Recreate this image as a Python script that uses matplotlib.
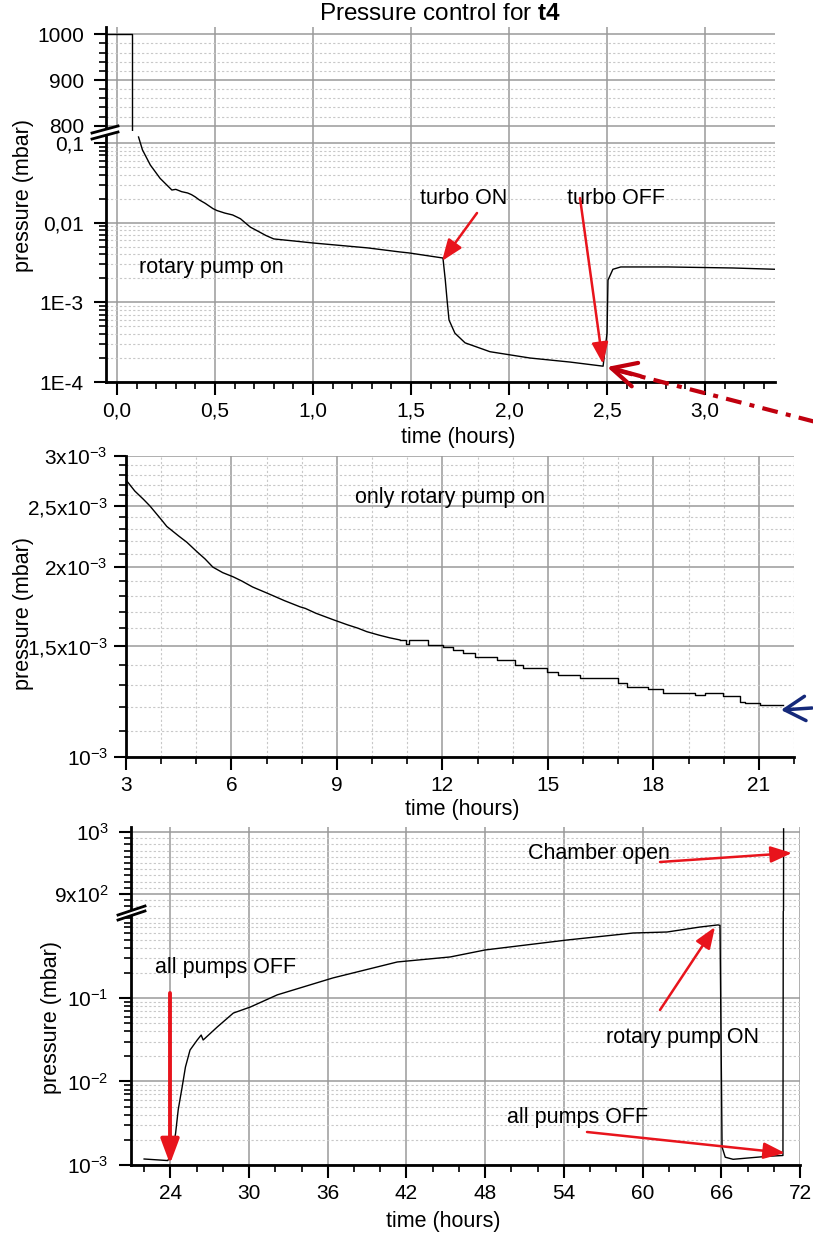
import numpy as np
import matplotlib
matplotlib.use("Agg")
import matplotlib.pyplot as plt
from matplotlib.ticker import MultipleLocator, FixedLocator, LogLocator, NullFormatter, FuncFormatter
from matplotlib.lines import Line2D
from matplotlib.patches import FancyArrowPatch, Polygon

plt.rcParams['font.family'] = ['Liberation Sans', 'DejaVu Sans']
plt.rcParams['mathtext.fontset'] = 'custom'
plt.rcParams['mathtext.rm'] = 'Liberation Sans'
plt.rcParams['mathtext.it'] = 'Liberation Sans:italic'
plt.rcParams['mathtext.bf'] = 'Liberation Sans:bold'

# ---- data: pump-down run t4 ----
# venting (upper, atmospheric part of panel 1)
vent_t = [-0.06, 0.077, 0.077]
vent_p = [1000, 1000, 780]

# rotary pump + turbo, first 3.4 hours
pump_t = [0.11, 0.13, 0.17, 0.22, 0.28, 0.30, 0.33, 0.36, 0.38, 0.40, 0.42, 0.45, 0.49,
          0.51, 0.55, 0.59, 0.63, 0.68, 0.72, 0.76, 0.80, 0.90, 1.00, 1.28, 1.44, 1.49,
          1.663, 1.675, 1.684, 1.694, 1.724, 1.776, 1.903, 2.107, 2.311, 2.48,
          2.50, 2.505, 2.53, 2.57, 2.81, 3.14, 3.36]
pump_p = [0.119, 0.082, 0.053, 0.036, 0.0257, 0.0262, 0.0245, 0.0236, 0.0225, 0.021, 0.0193,
          0.0175, 0.0150, 0.0142, 0.0132, 0.0125, 0.0112, 0.0088, 0.0078, 0.0069, 0.00625,
          0.0059, 0.00556, 0.00482, 0.0043, 0.00417, 0.0036, 0.0019, 0.00107, 0.0006, 0.00041,
          0.00031, 0.00024, 0.0002, 0.000178, 0.000158, 0.00041, 0.0019, 0.0026, 0.00278,
          0.00278, 0.0027, 0.0026]

# only rotary pump, 3 - 22 hours (smooth early decay, then gauge-resolution steps)
rot_early_t = [3.02, 3.25, 3.5, 3.68, 4.0, 4.16, 4.5, 4.73, 5.0, 5.25, 5.47, 5.75, 6.05, 6.3,
               6.6, 7.0, 7.2, 7.5, 7.95, 8.1, 8.4, 8.9, 9.3, 9.6, 9.85, 10.2, 10.5, 10.79]
rot_early_p = [2.74e-3, 2.64e-3, 2.56e-3, 2.50e-3, 2.38e-3, 2.32e-3, 2.24e-3, 2.19e-3,
               2.12e-3, 2.06e-3, 2.00e-3, 1.96e-3, 1.93e-3, 1.90e-3, 1.86e-3, 1.82e-3,
               1.80e-3, 1.77e-3, 1.73e-3, 1.72e-3, 1.69e-3, 1.65e-3, 1.62e-3, 1.60e-3,
               1.58e-3, 1.56e-3, 1.545e-3, 1.533e-3]
rot_late_t = [10.79, 10.95, 11.05, 11.59, 12.01, 12.30, 12.58, 12.92, 13.55, 14.06, 14.29,
              14.97, 15.28, 15.91, 16.99, 17.25, 17.84, 18.27, 19.18, 19.46, 19.97, 20.46,
              20.60, 21.03, 21.68]
rot_late_p = [1.533e-3, 1.51e-3, 1.533e-3, 1.505e-3, 1.495e-3, 1.479e-3, 1.463e-3, 1.441e-3,
              1.426e-3, 1.400e-3, 1.385e-3, 1.364e-3, 1.349e-3, 1.335e-3, 1.311e-3, 1.291e-3,
              1.282e-3, 1.264e-3, 1.254e-3, 1.264e-3, 1.249e-3, 1.223e-3, 1.218e-3, 1.209e-3,
              1.209e-3]

# pumps off / rotary on / chamber open, 22 - 71 hours
off_t = [22.0, 23.8, 24.15, 24.4, 24.6, 24.9, 25.15, 25.5, 26.05, 26.35, 26.5, 27.58, 28.8,
         30.1, 32.15, 36.4, 41.3, 45.33, 48.0, 54.25, 59.28, 61.87, 64.38, 65.75, 65.9,
         66.06, 66.3, 66.9, 67.7, 69.5, 70.7, 70.75]
off_p = [1.18e-3, 1.13e-3, 1.39e-3, 2.4e-3, 4.6e-3, 8.6e-3, 0.0149, 0.0238, 0.0314, 0.036,
         0.0314, 0.045, 0.066, 0.078, 0.109, 0.174, 0.27, 0.31, 0.376, 0.495, 0.60, 0.617,
         0.708, 0.75, 0.74, 1.64e-3, 1.24e-3, 1.17e-3, 1.2e-3, 1.27e-3, 1.3e-3, 1005]

W, H = 813, 1235
fig = plt.figure(figsize=(W / 100, H / 100), dpi=100)


def fr(x, y):
    return (x / W, 1 - y / H)


def rect(l, t, r, b):
    return [l / W, 1 - b / H, (r - l) / W, (b - t) / H]


def style(ax, ypad=6, xminor_grid=False):
    for s in ['top', 'right']:
        ax.spines[s].set_visible(False)
    for s in ['left', 'bottom']:
        ax.spines[s].set_linewidth(2)
    ax.tick_params(which='major', direction='out', length=9, width=1.5, labelsize=15)
    ax.tick_params(which='minor', direction='out', length=5, width=1.2)
    ax.tick_params(axis='y', which='major', pad=ypad)
    ax.tick_params(axis='x', which='major', pad=5)
    ax.grid(which='major', color='#9a9a9a', lw=1.1)
    ax.grid(which='minor', axis='y', color='#c8c8c8', lw=0.8, ls=(0, (2, 2)))
    if xminor_grid:
        ax.grid(which='minor', axis='x', color='#c8c8c8', lw=0.8, ls=(0, (2, 2)))
    ax.set_axisbelow(True)


def top_part(ax):
    ax.spines['bottom'].set_visible(False)
    ax.tick_params(axis='x', which='both', bottom=False, labelbottom=False)


def break_mark(x0, x1, y0a, y1a, y0b, y1b):
    poly = Polygon([fr(x0, y0a), fr(x1, y1a), fr(x1, y1b), fr(x0, y0b)],
                   closed=True, transform=fig.transFigure, fc='white', ec='none', zorder=20)
    fig.add_artist(poly)
    for (ya, yb) in [(y0a, y1a), (y0b, y1b)]:
        fig.add_artist(Line2D([x0 / W, x1 / W], [1 - ya / H, 1 - yb / H],
                              transform=fig.transFigure, color='black', lw=2, zorder=21))


def arrow(tail, head, color='#e8141c', lw=1.8, style='-|>,head_length=0.65,head_width=0.25',
          ms=20, ls='-'):
    a = FancyArrowPatch(posA=fr(*tail), posB=fr(*head), transform=fig.transFigure,
                        arrowstyle=style, mutation_scale=ms, color=color, lw=lw,
                        shrinkA=0, shrinkB=0, linestyle=ls, zorder=30)
    fig.add_artist(a)


def label(x, y, s, **kw):
    fig.text(x / W, 1 - y / H, s, ha='center', va='center', fontsize=15.5, **kw)


comma = FuncFormatter(lambda v, pos: f"{v:.1f}".replace('.', ','))

# ---------------- panel 1 ----------------
ax1a = fig.add_axes(rect(106, 27, 775, 131))
ax1b = fig.add_axes(rect(106, 131, 775, 382), sharex=ax1a)
for ax in (ax1a, ax1b):
    style(ax, ypad=7)
top_part(ax1a)
ax1a.plot(vent_t, vent_p, color='black', lw=1)
ax1a.set_ylim(788.5, 1016)
ax1a.yaxis.set_major_locator(FixedLocator([800, 900, 1000]))
ax1a.yaxis.set_minor_locator(MultipleLocator(20))

ax1b.plot(pump_t, pump_p, color='black', lw=1)
ax1b.set_yscale('log')
ax1b.set_ylim(1e-4, 0.1415)
ax1b.yaxis.set_major_locator(FixedLocator([1e-4, 1e-3, 1e-2, 1e-1]))
ax1b.set_yticklabels(['1E-4', '1E-3', '0,01', '0,1'])
ax1b.yaxis.set_minor_locator(LogLocator(base=10, subs=np.arange(2, 10)))
ax1b.yaxis.set_minor_formatter(NullFormatter())
ax1b.set_xlim(-0.056, 3.357)
ax1b.xaxis.set_major_locator(MultipleLocator(0.5))
ax1b.xaxis.set_minor_locator(MultipleLocator(0.1))
ax1b.xaxis.set_major_formatter(comma)
break_mark(92, 118, 133, 126, 139, 132)

fig.text(440 / W, 1 - 14 / H, r'Pressure control for $\mathbf{t4}$', ha='center', va='center',
         fontsize=17.5)
label(24, 195, 'pressure (mbar)', rotation=90)
label(458, 437, 'time (hours)')
label(211, 267, 'rotary pump on')
label(464, 198, 'turbo ON')
label(616, 198, 'turbo OFF')
arrow((477, 213), (442, 261))
arrow((580, 198), (603, 364))
# dash-dot pointer coming from the right edge
fig.add_artist(Line2D([835 / W, 612 / W], [1 - 427 / H, 1 - 369 / H], transform=fig.transFigure,
                      color='#c0000e', lw=3, ls=(0, (3.8, 2, 1.2, 2)), zorder=30))
arrow((640, 376), (607, 367), color='#c0000e', lw=3,
      style='->,head_length=0.7,head_width=0.35', ms=25)

# ---------------- panel 2 ----------------
ax2 = fig.add_axes(rect(126, 456, 794, 757))
style(ax2, ypad=4, xminor_grid=True)
ax2.plot(rot_early_t, rot_early_p, color='black', lw=1)
ax2.plot(rot_late_t, rot_late_p, color='black', lw=1, drawstyle='steps-post')
ax2.set_yscale('log')
ax2.set_ylim(1e-3, 3e-3)
ax2.yaxis.set_major_locator(FixedLocator([1e-3, 1.5e-3, 2e-3, 2.5e-3, 3e-3]))
ax2.set_yticklabels([r'$10^{-3}$', r'1,5x$10^{-3}$', r'2x$10^{-3}$', r'2,5x$10^{-3}$',
                     r'3x$10^{-3}$'])
ax2.yaxis.set_minor_locator(MultipleLocator(1e-4))
ax2.yaxis.set_minor_formatter(NullFormatter())
ax2.set_xlim(3, 22)
ax2.xaxis.set_major_locator(MultipleLocator(3))
ax2.xaxis.set_minor_locator(MultipleLocator(1))
label(24, 613, 'pressure (mbar)', rotation=90)
label(462, 810, 'time (hours)')
label(450, 497, 'only rotary pump on')
arrow((812, 708), (781, 710), color='#15297a', lw=2.5,
      style='->,head_length=0.6,head_width=0.35', ms=25)

# ---------------- panel 3 ----------------
ax3a = fig.add_axes(rect(131, 827, 800, 911))
ax3b = fig.add_axes(rect(131, 911, 800, 1165), sharex=ax3a)
for ax in (ax3a, ax3b):
    style(ax, ypad=7)
top_part(ax3a)
ax3a.plot(off_t, off_p, color='black', lw=1)
ax3a.set_ylim(872.6, 1008)
ax3a.yaxis.set_major_locator(FixedLocator([900, 1000]))
ax3a.set_yticklabels([r'9x$10^{2}$', r'$10^{3}$'])
ax3a.yaxis.set_minor_locator(MultipleLocator(10))

ax3b.plot(off_t, off_p, color='black', lw=1)
ax3b.set_yscale('log')
ax3b.set_ylim(1e-3, 1.101)
ax3b.yaxis.set_major_locator(FixedLocator([1e-3, 1e-2, 1e-1]))
ax3b.set_yticklabels([r'$10^{-3}$', r'$10^{-2}$', r'$10^{-1}$'])
ax3b.yaxis.set_minor_locator(LogLocator(base=10, subs=np.arange(2, 10)))
ax3b.yaxis.set_minor_formatter(NullFormatter())
ax3b.set_xlim(21, 72)
ax3b.xaxis.set_major_locator(MultipleLocator(6))
ax3b.xaxis.set_minor_locator(MultipleLocator(2))
break_mark(118, 145, 915, 906, 920, 911)

label(52, 1017, 'pressure (mbar)', rotation=90)
label(443, 1222, 'time (hours)')
label(226, 968, 'all pumps OFF')
label(599, 854, 'Chamber open')
label(682, 1038, 'rotary pump ON')
label(578, 1117, 'all pumps OFF')
arrow((170, 993), (170, 1164), lw=2.8, style='-|>,head_length=0.75,head_width=0.28')
arrow((660, 862), (792, 853))
arrow((660, 1010), (715, 927))
arrow((587, 1132), (785, 1153))

fig.savefig('out.png', dpi=100)
